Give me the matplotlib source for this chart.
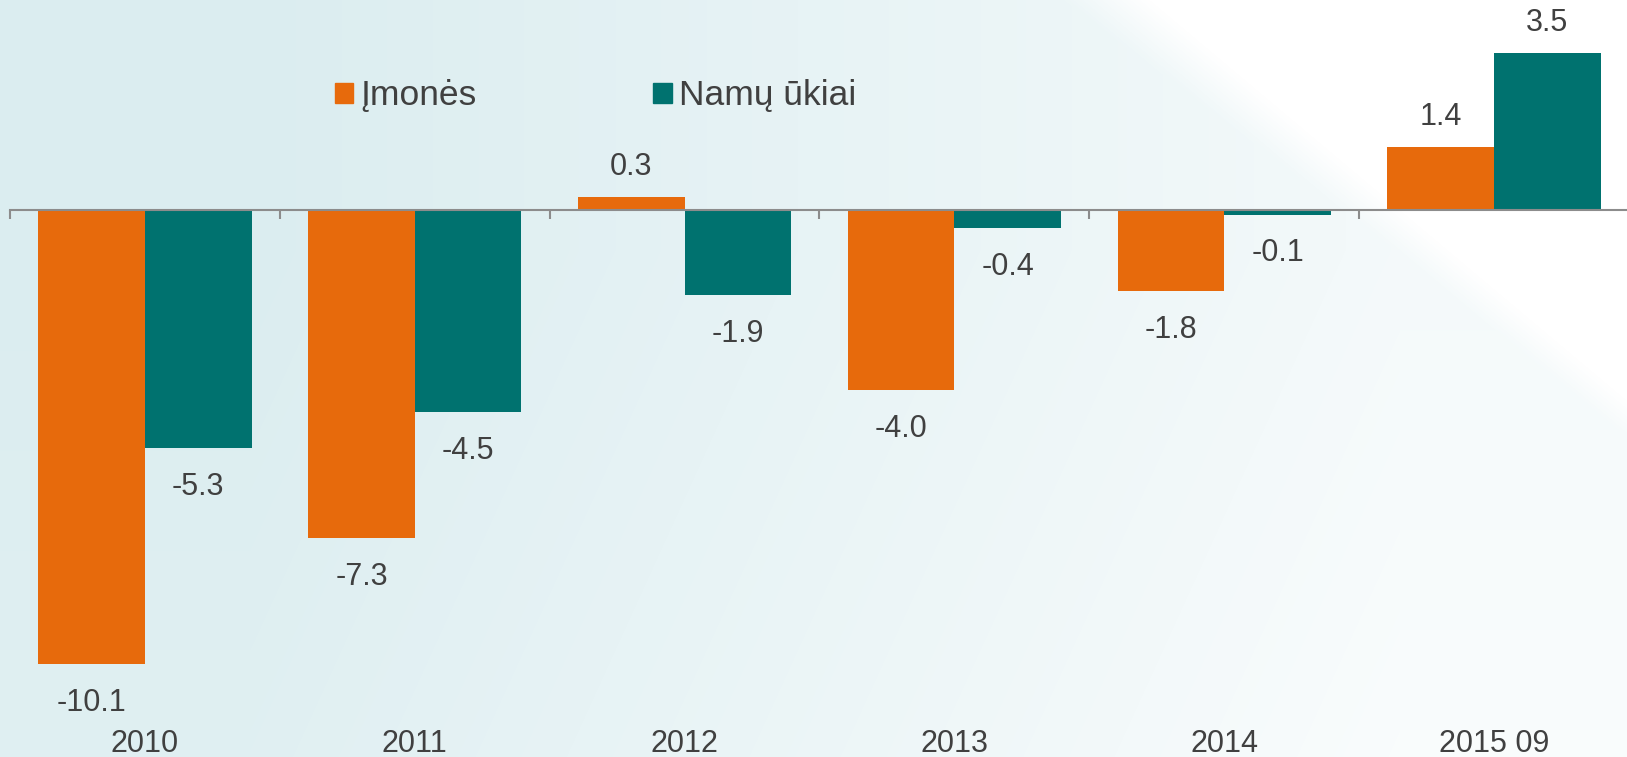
import numpy as np
import matplotlib
matplotlib.use("Agg")
import matplotlib.pyplot as plt
from matplotlib.patches import Patch

# Data
categories = ["2010", "2011", "2012", "2013", "2014", "2015 09"]
imones = [-10.1, -7.3, 0.3, -4.0, -1.8, 1.4]
namu_ukiai = [-5.3, -4.5, -1.9, -0.4, -0.1, 3.5]
series_names = ["Įmonės", "Namų ūkiai"]

ORANGE = "#E76A0C"
TEAL = "#00726F"
TEXT = "#404040"

plt.rcParams['font.family'] = ['Liberation Sans', 'DejaVu Sans']

W, H = 1627, 757
fig = plt.figure(figsize=(W / 100, H / 100), dpi=100)

# background: light teal fading to white, with soft diagonal light areas
yy, xx = np.mgrid[0:H, 0:W].astype(float)
base = np.array([219, 237, 240]) / 255.0
t_h = np.clip((xx - 250) / 1150, 0, 1) * 0.7 + np.clip((yy - 250) / 900, 0, 1) * 0.25
n = np.hypot(560, 667)
s1 = ((xx - 930) * 560 - yy * 667) / n
band = np.clip((s1 + 30) / 120, 0, 1) * 0.5
s2 = ((xx - 1010) * 560 - yy * 667) / n
white = np.clip((s2 + 20) / 110, 0, 1)
t = np.clip(np.maximum(t_h, np.maximum(band, white)), 0, 1)
img = base[None, None, :] * (1 - t[..., None]) + t[..., None]
bg = fig.add_axes([0, 0, 1, 1])
bg.imshow(img, aspect='auto', extent=[0, W, H, 0])
bg.axis('off')

ax = fig.add_axes([10 / W, 0, 1619 / W, 1])
ax.patch.set_alpha(0)

x = np.arange(len(categories))
bw = 0.395
b1 = ax.bar(x - bw / 2, imones, bw, color=ORANGE, label=series_names[0], zorder=3)
b2 = ax.bar(x + bw / 2, namu_ukiai, bw, color=TEAL, label=series_names[1], zorder=3)

for bars, vals in [(b1, imones), (b2, namu_ukiai)]:
    for rect, v in zip(bars, vals):
        cx = rect.get_x() + rect.get_width() / 2
        off = 15.8 if v >= 0 else -33.8
        ax.annotate(f"{v:.1f}", (cx, v), xytext=(0, off), textcoords='offset points',
                    ha='center', va='baseline', fontsize=22, color=TEXT)

ax.set_xlim(-0.5, len(categories) - 0.5)
ax.set_ylim(-12.169, 4.672)

for sp in ['top', 'right', 'left']:
    ax.spines[sp].set_visible(False)
ax.spines['bottom'].set_position(('data', 0))
ax.spines['bottom'].set_color('#8c8c8c')
ax.spines['bottom'].set_linewidth(1.5)
ax.spines['bottom'].set_zorder(4)
ax.set_yticks([])
ax.set_xticks(np.arange(len(categories) + 1) - 0.5)
ax.set_xticklabels([])
ax.tick_params(axis='x', direction='out', length=6.5, width=1.5, color='#8c8c8c')

for i, c in enumerate(categories):
    ax.text(i, 1 - 752 / H, c, transform=ax.get_xaxis_transform(),
            ha='center', va='baseline', fontsize=22, color=TEXT)

handles = [Patch(color=ORANGE), Patch(color=TEAL)]
fig.legend(handles, series_names, loc='center left', bbox_to_anchor=(335 / W, 1 - 96 / H),
           ncol=2, frameon=False, fontsize=25.5, labelcolor=TEXT, borderpad=0,
           borderaxespad=0, handlelength=0.51, handleheight=0.51, handletextpad=0.2,
           columnspacing=5.0)

fig.savefig("out.png", dpi=100)
